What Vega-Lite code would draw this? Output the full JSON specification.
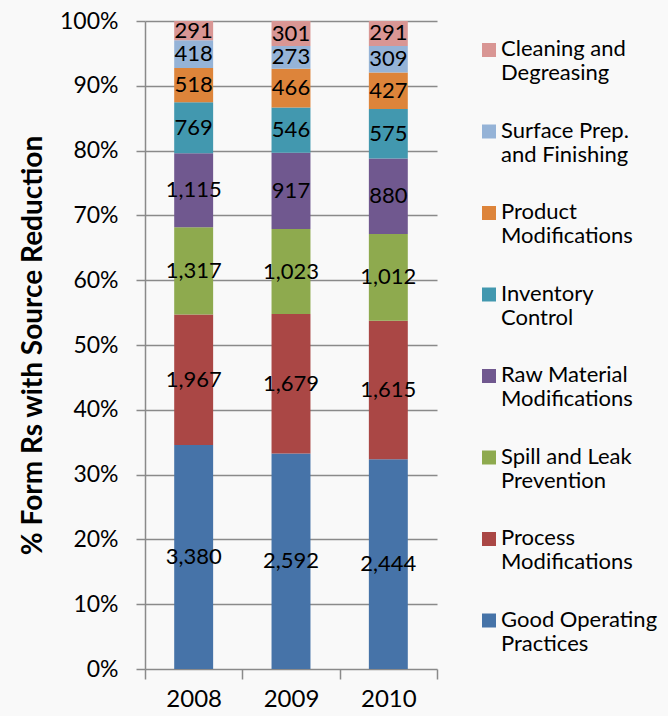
{
  "$schema": "https://vega.github.io/schema/vega-lite/v6.json",
  "width": 292,
  "height": 648,
  "autosize": "none",
  "padding": {"left": 145, "top": 21, "right": 231, "bottom": 47},
  "background": "#f9f9f9",
  "config": {
    "view": {"stroke": null},
    "font": "Lato",
    "axis": {"labelFont": "Lato", "titleFont": "Lato", "labelColor": "#000", "titleColor": "#000"}
  },
  "data": {
    "values": [
      {"year": "2008", "category": "Good Operating Practices", "ord": 1, "count": 3380},
      {"year": "2008", "category": "Process Modifications", "ord": 2, "count": 1967},
      {"year": "2008", "category": "Spill and Leak Prevention", "ord": 3, "count": 1317},
      {"year": "2008", "category": "Raw Material Modifications", "ord": 4, "count": 1115},
      {"year": "2008", "category": "Inventory Control", "ord": 5, "count": 769},
      {"year": "2008", "category": "Product Modifications", "ord": 6, "count": 518},
      {"year": "2008", "category": "Surface Prep. and Finishing", "ord": 7, "count": 418},
      {"year": "2008", "category": "Cleaning and Degreasing", "ord": 8, "count": 291},
      {"year": "2009", "category": "Good Operating Practices", "ord": 1, "count": 2592},
      {"year": "2009", "category": "Process Modifications", "ord": 2, "count": 1679},
      {"year": "2009", "category": "Spill and Leak Prevention", "ord": 3, "count": 1023},
      {"year": "2009", "category": "Raw Material Modifications", "ord": 4, "count": 917},
      {"year": "2009", "category": "Inventory Control", "ord": 5, "count": 546},
      {"year": "2009", "category": "Product Modifications", "ord": 6, "count": 466},
      {"year": "2009", "category": "Surface Prep. and Finishing", "ord": 7, "count": 273},
      {"year": "2009", "category": "Cleaning and Degreasing", "ord": 8, "count": 301},
      {"year": "2010", "category": "Good Operating Practices", "ord": 1, "count": 2444},
      {"year": "2010", "category": "Process Modifications", "ord": 2, "count": 1615},
      {"year": "2010", "category": "Spill and Leak Prevention", "ord": 3, "count": 1012},
      {"year": "2010", "category": "Raw Material Modifications", "ord": 4, "count": 880},
      {"year": "2010", "category": "Inventory Control", "ord": 5, "count": 575},
      {"year": "2010", "category": "Product Modifications", "ord": 6, "count": 427},
      {"year": "2010", "category": "Surface Prep. and Finishing", "ord": 7, "count": 309},
      {"year": "2010", "category": "Cleaning and Degreasing", "ord": 8, "count": 291}
    ]
  },
  "transform": [
    {"stack": "count", "groupby": ["year"], "sort": [{"field": "ord", "order": "ascending"}], "offset": "normalize", "as": ["y0", "y1"]},
    {"calculate": "(datum.y0 + datum.y1) / 2", "as": "ymid"}
  ],
  "encoding": {
    "x": {
      "field": "year", "type": "nominal",
      "scale": {"paddingInner": 0, "paddingOuter": 0},
      "axis": {
        "title": null, "labelAngle": 0, "labelFontSize": 24, "labelPadding": 8,
        "domain": false, "ticks": true, "tickBand": "extent", "tickSize": 10,
        "tickColor": "#8a8a8a", "tickWidth": 1.5, "grid": false
      }
    }
  },
  "layer": [
    {
      "mark": {"type": "bar", "width": {"band": 0.4}},
      "encoding": {
        "y": {
          "field": "y0", "type": "quantitative",
          "scale": {"domain": [0, 1], "nice": false},
          "axis": {
            "title": "% Form Rs with Source Reduction",
            "titleFontSize": 28, "titleFontWeight": "bold", "titlePadding": 12,
            "format": ".0%", "values": [0, 0.1, 0.2, 0.3, 0.4, 0.5, 0.6, 0.7, 0.8, 0.9, 1.0],
            "labelFontSize": 23, "labelPadding": 18,
            "grid": true, "gridColor": "#8a8a8a", "gridWidth": 1.5,
            "domain": true, "domainColor": "#8a8a8a", "domainWidth": 1.5,
            "ticks": true, "tickSize": 9, "tickColor": "#8a8a8a", "tickWidth": 1.5
          }
        },
        "y2": {"field": "y1"},
        "color": {
          "field": "category", "type": "nominal",
          "scale": {
            "domain": ["Cleaning and Degreasing", "Surface Prep. and Finishing", "Product Modifications", "Inventory Control", "Raw Material Modifications", "Spill and Leak Prevention", "Process Modifications", "Good Operating Practices"],
            "range": ["#d99694", "#95b3d7", "#dd843a", "#4298af", "#70588f", "#8eaa4e", "#aa4745", "#4673a8"]
          },
          "legend": {
            "title": null, "orient": "none", "legendX": 333, "legendY": 18,
            "symbolType": "square", "symbolSize": 196, "symbolStrokeWidth": 0,
            "labelFontSize": 22, "labelFont": "Lato", "labelColor": "#000", "labelOffset": 1,
            "labelLimit": 300, "labelBaseline": "top", "labelLineHeight": 29,
            "rowPadding": 35.5,
            "encoding": {"labels": {"dy": {"value": -11}}},
            "labelExpr": "datum.label == 'Cleaning and Degreasing' ? ['Cleaning and', 'Degreasing'] : datum.label == 'Surface Prep. and Finishing' ? ['Surface Prep.', 'and Finishing'] : datum.label == 'Product Modifications' ? ['Product', 'Modifications'] : datum.label == 'Inventory Control' ? ['Inventory', 'Control'] : datum.label == 'Raw Material Modifications' ? ['Raw Material', 'Modifications'] : datum.label == 'Spill and Leak Prevention' ? ['Spill and Leak', 'Prevention'] : datum.label == 'Process Modifications' ? ['Process', 'Modifications'] : ['Good Operating', 'Practices']"
          }
        }
      }
    },
    {
      "mark": {"type": "text", "fontSize": 22, "font": "Lato", "color": "#000", "baseline": "middle"},
      "encoding": {
        "y": {"field": "ymid", "type": "quantitative"},
        "text": {"field": "count", "type": "quantitative", "format": ",d"}
      }
    }
  ]
}
